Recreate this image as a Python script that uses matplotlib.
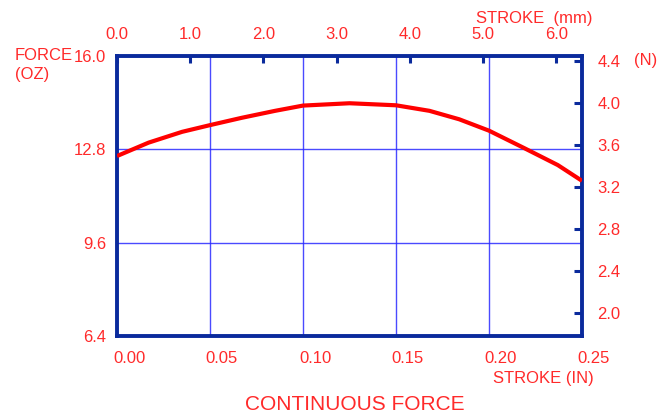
import matplotlib
matplotlib.use("Agg")
import matplotlib.pyplot as plt
import matplotlib.transforms as mtransforms

# curve
stroke_in = [0.0, 0.017, 0.035, 0.05, 0.067, 0.085, 0.100, 0.125, 0.150,
             0.168, 0.184, 0.200, 0.219, 0.237, 0.250]
force_oz = [12.57, 13.03, 13.40, 13.63, 13.88, 14.12, 14.30, 14.38, 14.31,
            14.12, 13.83, 13.44, 12.84, 12.26, 11.72]

in_ticks = [0.0, 0.05, 0.10, 0.15, 0.20, 0.25]
in_labels = ["0.00", "0.05", "0.10", "0.15", "0.20", "0.25"]
oz_ticks = [6.4, 9.6, 12.8, 16.0]
oz_labels = ["6.4", "9.6", "12.8", "16.0"]
mm_ticks = [0, 1, 2, 3, 4, 5, 6]
mm_labels = ["0.0", "1.0", "2.0", "3.0", "4.0", "5.0", "6.0"]
n_ticks = [2.0, 2.4, 2.8, 3.2, 3.6, 4.0, 4.4]
n_labels = ["2.0", "2.4", "2.8", "3.2", "3.6", "4.0", "4.4"]

MM_PER_IN = 25.4
N_PER_OZ = 0.278014

RED = "#ff2a2a"
FRAME = "#0a2a9c"
GRID = "#2a2aff"
FONT = "Liberation Sans"

fig = plt.figure(figsize=(6.62, 4.16), dpi=100)
ax = fig.add_axes([117 / 662, 1 - 336 / 416, 465 / 662, 280 / 416])

ax.plot(stroke_in, force_oz, color="#ff0000", lw=3.0, solid_capstyle="butt",
        solid_joinstyle="round", zorder=3)

ax.set_xlim(0, 0.25)
ax.set_ylim(6.4, 16.0)
ax.set_xticks(in_ticks)
ax.set_xticklabels(in_labels)
ax.set_yticks(oz_ticks)
ax.set_yticklabels(oz_labels)
ax.tick_params(axis="both", length=0, colors=RED, labelsize=12)
ax.tick_params(axis="x", pad=11)
ax.tick_params(axis="y", pad=8)
ax.grid(True, color=GRID, lw=1.0, alpha=0.85)
for lab in ax.get_xticklabels():
    lab.set_transform(lab.get_transform() + mtransforms.ScaledTranslation(0.12, 0, fig.dpi_scale_trans))
for lab in ax.get_xticklabels() + ax.get_yticklabels():
    lab.set_fontfamily(FONT)

for sp in ax.spines.values():
    sp.set_color(FRAME)
    sp.set_linewidth(2.8)

# top axis in mm
top = ax.secondary_xaxis("top", functions=(lambda x: x * MM_PER_IN, lambda m: m / MM_PER_IN))
top.set_xticks(mm_ticks)
top.set_xticklabels(mm_labels)
top.tick_params(direction="in", length=5, width=2.2, color=FRAME, labelcolor=RED,
                labelsize=12, pad=10)
top.spines["top"].set_visible(False)
for lab in top.get_xticklabels():
    lab.set_fontfamily(FONT)

# right axis in newtons
right = ax.secondary_yaxis("right", functions=(lambda f: f * N_PER_OZ, lambda n: n / N_PER_OZ))
right.set_yticks(n_ticks)
right.set_yticklabels(n_labels)
right.tick_params(direction="in", length=6, width=2.2, color=FRAME, labelcolor=RED,
                  labelsize=12, pad=11)
right.spines["right"].set_visible(False)
for lab in right.get_yticklabels():
    lab.set_fontfamily(FONT)

txt = dict(color=RED, fontfamily=FONT, fontsize=12, va="center")
fig.text(15 / 662, 1 - 56 / 416, "FORCE", ha="left", **txt)
fig.text(15 / 662, 1 - 74 / 416, "(OZ)", ha="left", **txt)
fig.text(593 / 662, 1 - 18 / 416, "STROKE  (mm)", ha="right", **txt)
fig.text(634 / 662, 1 - 60 / 416, "(N)", ha="left", **txt)
fig.text(594 / 662, 1 - 378 / 416, "STROKE (IN)", ha="right", **txt)
fig.text(355 / 662, 1 - 404 / 416, "CONTINUOUS FORCE", ha="center", color=RED,
         fontfamily=FONT, fontsize=15, va="center")

fig.savefig("out.png", dpi=100, facecolor="white")
